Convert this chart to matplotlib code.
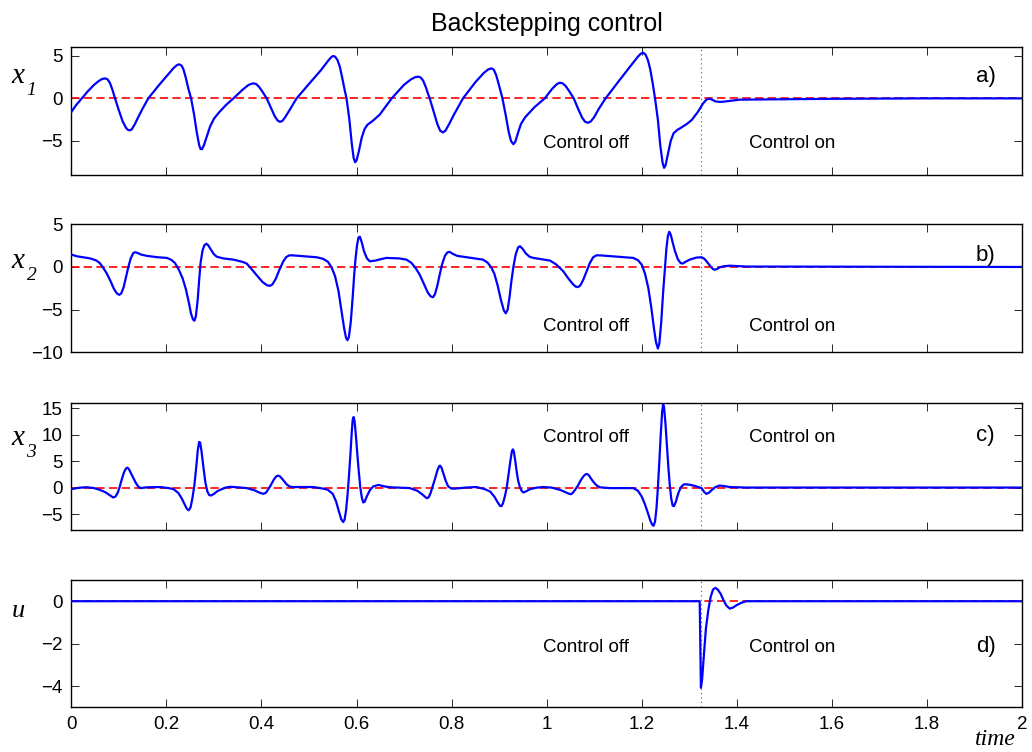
import matplotlib
matplotlib.use("Agg")
import matplotlib.pyplot as plt

# ---------------- data ----------------
t_x1 = [0.000, 0.010, 0.022, 0.035, 0.048, 0.058, 0.065, 0.071, 0.076, 0.081, 0.086, 0.092, 0.100,
        0.108, 0.115, 0.119, 0.123, 0.127, 0.133, 0.140, 0.150, 0.162, 0.185, 0.205, 0.215, 0.222,
        0.227, 0.232, 0.236, 0.241, 0.246, 0.252, 0.258, 0.264, 0.269, 0.272, 0.275, 0.279, 0.285,
        0.292, 0.300, 0.310, 0.325, 0.341, 0.360, 0.372, 0.379, 0.384, 0.389, 0.395, 0.402, 0.411,
        0.420, 0.428, 0.434, 0.439, 0.444, 0.450, 0.460, 0.474, 0.500, 0.525, 0.540, 0.547, 0.551,
        0.555, 0.560, 0.565, 0.570, 0.575, 0.579, 0.585, 0.590, 0.594, 0.597, 0.600, 0.605, 0.611,
        0.617, 0.623, 0.635, 0.649, 0.674, 0.700, 0.715, 0.724, 0.730, 0.735, 0.740, 0.746, 0.750,
        0.754, 0.762, 0.770, 0.776, 0.782, 0.787, 0.795, 0.805, 0.824, 0.850, 0.868, 0.877, 0.884,
        0.889, 0.894, 0.900, 0.907, 0.914, 0.920, 0.925, 0.930, 0.934, 0.940, 0.946, 0.955, 0.975,
        0.996, 1.012, 1.022, 1.028, 1.034, 1.040, 1.048, 1.057, 1.066, 1.075, 1.081, 1.087, 1.093,
        1.100, 1.110, 1.124, 1.150, 1.175, 1.192, 1.198, 1.203, 1.208, 1.213, 1.218, 1.223, 1.228,
        1.234, 1.239, 1.244, 1.247, 1.250, 1.255, 1.261, 1.267, 1.275, 1.284, 1.295, 1.305, 1.318,
        1.329, 1.336, 1.342, 1.348, 1.355, 1.365, 1.378, 1.392, 1.406, 1.500, 1.600, 1.800, 2.000]
x1 = [-1.6, -0.8, 0.0, 0.85, 1.6, 2.05, 2.28, 2.35, 2.25, 1.85, 1.1, 0.0, -1.4,
      -2.7, -3.45, -3.7, -3.75, -3.65, -3.1, -2.3, -1.2, 0.0, 1.6, 2.9, 3.55, 3.9,
      4.0, 3.85, 3.4, 2.4, 1.2, 0.0, -1.8, -4.0, -5.5, -5.95, -5.95, -5.5, -4.5,
      -3.3, -2.4, -1.7, -0.8, 0.0, 1.0, 1.55, 1.72, 1.76, 1.68, 1.35, 0.8, 0.0,
      -1.1, -2.1, -2.6, -2.75, -2.65, -2.2, -1.3, 0.0, 1.7, 3.3, 4.4, 4.85, 4.98,
      4.9, 4.5, 3.7, 2.4, 1.0, 0.0, -2.5, -5.3, -7.0, -7.5, -7.3, -6.2, -4.6,
      -3.6, -3.1, -2.6, -1.9, 0.0, 1.6, 2.25, 2.5, 2.55, 2.45, 2.1, 1.3, 0.6,
      0.0, -1.5, -3.0, -3.8, -4.0, -3.8, -3.0, -1.9, 0.0, 1.9, 3.0, 3.4, 3.53,
      3.35, 2.7, 1.5, 0.0, -2.0, -3.9, -5.0, -5.38, -5.1, -4.0, -3.0, -2.2, -1.0,
      0.0, 1.15, 1.7, 1.84, 1.75, 1.45, 0.8, 0.0, -1.2, -2.3, -2.75, -2.87, -2.7,
      -2.2, -1.2, 0.0, 1.9, 3.7, 4.9, 5.25, 5.37, 5.15, 4.5, 3.4, 1.8, 0.0,
      -2.5, -5.5, -7.6, -8.16, -7.9, -6.6, -5.0, -4.1, -3.7, -3.4, -3.0, -2.55, -1.6,
      -0.6, -0.15, -0.03, -0.15, -0.35, -0.42, -0.35, -0.25, -0.15, -0.1, -0.05, 0.0, 0.0]

t_x2 = [0.000, 0.012, 0.025, 0.040, 0.053, 0.060, 0.066, 0.074, 0.082, 0.090, 0.096, 0.101, 0.105,
        0.110, 0.115, 0.120, 0.125, 0.130, 0.134, 0.139, 0.147, 0.159, 0.180, 0.201, 0.210, 0.218,
        0.226, 0.234, 0.241, 0.247, 0.252, 0.256, 0.259, 0.262, 0.266, 0.269, 0.272, 0.276, 0.280,
        0.284, 0.288, 0.294, 0.300, 0.306, 0.320, 0.341, 0.360, 0.369, 0.380, 0.392, 0.403, 0.412,
        0.418, 0.423, 0.430, 0.438, 0.446, 0.452, 0.458, 0.463, 0.480, 0.516, 0.530, 0.540, 0.548,
        0.555, 0.562, 0.568, 0.574, 0.578, 0.581, 0.584, 0.588, 0.592, 0.595, 0.598, 0.601, 0.604,
        0.607, 0.611, 0.616, 0.622, 0.628, 0.640, 0.650, 0.663, 0.690, 0.705, 0.715, 0.724, 0.733,
        0.742, 0.750, 0.756, 0.761, 0.765, 0.770, 0.775, 0.780, 0.786, 0.791, 0.796, 0.802, 0.812,
        0.824, 0.866, 0.876, 0.884, 0.890, 0.897, 0.904, 0.910, 0.914, 0.918, 0.922, 0.926, 0.930,
        0.935, 0.940, 0.944, 0.949, 0.956, 0.964, 0.972, 1.007, 1.020, 1.035, 1.045, 1.055, 1.061,
        1.066, 1.071, 1.077, 1.084, 1.091, 1.098, 1.105, 1.115, 1.150, 1.182, 1.192, 1.200, 1.207,
        1.214, 1.220, 1.226, 1.230, 1.234, 1.237, 1.241, 1.245, 1.249, 1.252, 1.255, 1.258, 1.261,
        1.265, 1.270, 1.276, 1.282, 1.286, 1.292, 1.301, 1.315, 1.326, 1.332, 1.338, 1.345, 1.350,
        1.354, 1.358, 1.364, 1.371, 1.385, 1.420, 2.000]
x2 = [1.45, 1.25, 1.14, 1.0, 0.75, 0.45, 0.0, -0.7, -1.6, -2.6, -3.1, -3.27, -3.1,
      -2.4, -1.2, 0.0, 1.0, 1.6, 1.73, 1.65, 1.45, 1.3, 1.15, 1.06, 0.85, 0.47,
      -0.3, -1.3, -2.6, -4.1, -5.5, -6.15, -6.3, -5.8, -3.8, -1.5, 0.5, 1.9, 2.55,
      2.72, 2.55, 2.0, 1.5, 1.2, 1.0, 0.86, 0.6, 0.4, -0.3, -1.1, -1.8, -2.15,
      -2.21, -2.05, -1.4, -0.3, 0.66, 1.15, 1.35, 1.37, 1.3, 1.14, 0.95, 0.6, -0.1,
      -1.1, -2.8, -5.0, -7.2, -8.3, -8.58, -8.2, -6.4, -3.5, -1.0, 1.0, 2.5, 3.45,
      3.55, 2.9, 1.8, 1.0, 0.66, 0.75, 0.9, 1.06, 1.0, 0.86, 0.5, -0.1, -0.91,
      -2.0, -3.0, -3.45, -3.54, -3.2, -2.2, -0.9, 0.3, 1.3, 1.7, 1.77, 1.55, 1.3,
      1.2, 0.86, 0.5, -0.1, -0.8, -2.2, -3.9, -5.1, -5.43, -5.0, -3.5, -1.6, 0.0,
      1.5, 2.3, 2.43, 2.15, 1.6, 1.2, 1.06, 0.75, 0.3, -0.51, -1.3, -2.0, -2.3,
      -2.36, -2.15, -1.5, -0.5, 0.47, 1.15, 1.37, 1.35, 1.2, 1.06, 0.8, 0.27, -0.8,
      -2.5, -4.7, -7.3, -8.8, -9.56, -9.0, -6.5, -3.0, 0.0, 2.2, 3.6, 4.13, 3.8,
      2.9, 1.84, 0.9, 0.45, 0.4, 0.6, 0.86, 1.1, 1.14, 0.95, 0.55, 0.05, -0.25,
      -0.32, -0.25, -0.05, 0.07, 0.15, 0.05, 0.0]

t_x3 = [0.000, 0.015, 0.032, 0.048, 0.060, 0.072, 0.082, 0.088, 0.093, 0.098, 0.102, 0.106, 0.111,
        0.115, 0.118, 0.121, 0.125, 0.130, 0.135, 0.140, 0.145, 0.160, 0.187, 0.205, 0.215, 0.225,
        0.232, 0.238, 0.243, 0.247, 0.251, 0.255, 0.259, 0.263, 0.266, 0.269, 0.271, 0.274, 0.278,
        0.282, 0.286, 0.290, 0.294, 0.300, 0.307, 0.313, 0.325, 0.334, 0.350, 0.369, 0.385, 0.397,
        0.404, 0.409, 0.414, 0.420, 0.426, 0.431, 0.435, 0.439, 0.445, 0.452, 0.458, 0.465, 0.509,
        0.530, 0.540, 0.550, 0.557, 0.563, 0.568, 0.572, 0.575, 0.578, 0.581, 0.584, 0.587, 0.590,
        0.592, 0.594, 0.596, 0.599, 0.602, 0.605, 0.608, 0.611, 0.614, 0.617, 0.622, 0.628, 0.635,
        0.646, 0.660, 0.670, 0.712, 0.728, 0.740, 0.746, 0.749, 0.752, 0.756, 0.760, 0.765, 0.770,
        0.774, 0.776, 0.779, 0.783, 0.788, 0.793, 0.800, 0.807, 0.830, 0.852, 0.870, 0.881, 0.890,
        0.897, 0.902, 0.905, 0.908, 0.912, 0.916, 0.920, 0.924, 0.927, 0.929, 0.931, 0.934, 0.937,
        0.940, 0.944, 0.948, 0.951, 0.957, 0.965, 0.980, 0.993, 1.010, 1.028, 1.040, 1.048, 1.051,
        1.055, 1.060, 1.066, 1.072, 1.078, 1.082, 1.085, 1.089, 1.094, 1.100, 1.106, 1.112, 1.133,
        1.182, 1.192, 1.200, 1.207, 1.213, 1.218, 1.222, 1.225, 1.228, 1.231, 1.234, 1.237, 1.240,
        1.243, 1.245, 1.247, 1.250, 1.253, 1.256, 1.259, 1.262, 1.265, 1.268, 1.272, 1.277, 1.282,
        1.287, 1.291, 1.300, 1.312, 1.326, 1.331, 1.336, 1.341, 1.347, 1.355, 1.364, 1.372, 1.385,
        1.420, 2.000]
x3 = [-0.3, -0.05, 0.07, -0.1, -0.43, -0.9, -1.5, -1.87, -1.7, -0.9, 0.19, 1.5, 2.9,
      3.6, 3.75, 3.5, 2.8, 1.9, 1.0, 0.3, -0.1, 0.05, 0.1, -0.1, -0.3, -1.0,
      -2.0, -3.1, -4.0, -4.3, -3.7, -1.9, 0.5, 4.0, 7.0, 8.6, 8.5, 6.8, 3.8,
      1.0, -0.7, -1.4, -1.5, -1.2, -0.7, -0.43, 0.0, 0.15, 0.05, -0.1, -0.5, -1.0,
      -1.18, -1.0, -0.4, 0.5, 1.5, 2.1, 2.25, 2.1, 1.5, 0.7, 0.25, 0.1, 0.1,
      -0.2, -0.43, -1.2, -2.6, -4.5, -6.0, -6.5, -6.0, -4.3, -1.5, 2.0, 6.0, 10.5,
      12.8, 13.3, 12.5, 9.5, 6.0, 2.8, 0.0, -1.8, -2.8, -2.7, -1.6, -0.5, 0.2,
      0.5, 0.2, 0.06, -0.1, -0.6, -1.4, -1.9, -2.0, -1.8, -1.0, 0.2, 1.6, 3.2,
      4.05, 4.13, 3.7, 2.6, 1.2, 0.2, -0.2, -0.2, 0.0, 0.1, -0.3, -0.75, -1.7,
      -2.8, -3.45, -3.5, -3.0, -1.7, 0.0, 2.6, 5.2, 6.9, 7.2, 6.8, 5.0, 3.0,
      1.3, 0.0, -0.7, -0.93, -0.7, -0.3, 0.0, 0.1, 0.0, -0.43, -0.9, -1.2, -1.25,
      -1.0, -0.4, 0.4, 1.4, 2.2, 2.5, 2.57, 2.3, 1.6, 0.9, 0.35, 0.05, -0.1,
      -0.1, -0.6, -1.69, -3.2, -4.8, -6.2, -7.0, -7.2, -6.4, -4.0, 0.0, 4.8, 10.0,
      14.3, 15.7, 15.2, 12.0, 8.0, 3.9, 0.5, -2.0, -3.4, -3.5, -2.6, -1.06, 0.0,
      0.5, 0.63, 0.55, 0.3, -0.1, -0.8, -1.18, -1.0, -0.5, 0.1, 0.38, 0.3, 0.1,
      0.0, 0.0]

t_u = [0.000, 1.322, 1.3245, 1.327, 1.331, 1.335, 1.340, 1.345, 1.350, 1.355, 1.360, 1.366,
       1.372, 1.378, 1.385, 1.392, 1.400, 1.410, 1.420, 2.000]
u = [0.0, 0.0, -4.08, -3.7, -2.47, -1.3, -0.43, 0.2, 0.55, 0.63, 0.55, 0.35,
     0.05, -0.2, -0.35, -0.3, -0.18, -0.07, 0.0, 0.0]

t_switch = 1.324
x_ticks = [0, 0.2, 0.4, 0.6, 0.8, 1, 1.2, 1.4, 1.6, 1.8, 2]
x_tick_labels = ["0", "0.2", "0.4", "0.6", "0.8", "1", "1.2", "1.4", "1.6", "1.8", "2"]
ylims = [(-9, 6), (-10, 5), (-8, 16), (-5, 1)]
yticks = [[-5, 0, 5], [-10, -5, 0, 5], [-5, 0, 5, 10, 15], [-4, -2, 0]]
panel_tags = ["a)", "b)", "c)", "d)"]
ylabel_main = ["x", "x", "x", "u"]
ylabel_sub = ["1", "2", "3", ""]
title = "Backstepping control"

# text placement (data coords)
text_base_y = [-5.85, -7.5, 8.63, -2.4]
tag_base_y = [1.95, 0.74, 8.8, -2.4]

# ---------------- figure ----------------
plt.rcParams['font.family'] = ['Liberation Sans', 'DejaVu Sans']

fig = plt.figure(figsize=(10.32, 7.52), dpi=100)
W, H = 1032.0, 752.0
left = 71.3 / W
width = (1022.0 - 71.3) / W
tops = [47.3, 224.3, 402.7, 580.0]
bottoms = [175.0, 352.3, 530.0, 707.3]
label_base_px = [83.0, 268.3, 445.0, 616.7]
label_sizes = [21, 21, 21, 19]

series = [(t_x1, x1), (t_x2, x2), (t_x3, x3), (t_u, u)]
axes = []
for i in range(4):
    b = (H - bottoms[i]) / H
    h = (bottoms[i] - tops[i]) / H
    ax = fig.add_axes([left, b, width, h])
    axes.append(ax)
    tt, yy = series[i]
    ax.plot([0, 2], [0, 0], color=(1, 0, 0), lw=1.2, linestyle=(0, (5, 2.6)), zorder=2)
    ax.plot(tt, yy, color=(0, 0, 1), lw=1.6, zorder=3, solid_joinstyle='round')
    ax.axvline(t_switch, color='0.35', lw=0.8, linestyle=(0, (1, 3)), zorder=1)
    ax.set_xlim(0, 2)
    ax.set_ylim(*ylims[i])
    ax.set_yticks(yticks[i])
    ax.set_xticks(x_ticks)
    if i == 3:
        ax.set_xticklabels(x_tick_labels)
    else:
        ax.set_xticklabels([])
    ax.tick_params(direction='in', top=True, right=True, length=6, width=0.7,
                   labelsize=13.5, pad=6, color='0.15')
    for s in ax.spines.values():
        s.set_linewidth(1.0)
        s.set_color('black')
    ax.text(0.992, text_base_y[i], "Control off", fontsize=13.5, va='baseline', ha='left')
    ax.text(1.426, text_base_y[i], "Control on", fontsize=13.5, va='baseline', ha='left')
    ax.text(1.903, tag_base_y[i], panel_tags[i], fontsize=16, va='baseline', ha='left')
    fig.text(11.7 / W, (H - label_base_px[i]) / H, ylabel_main[i], fontsize=label_sizes[i],
             family='Liberation Serif', style='italic', va='baseline', ha='left')
    if ylabel_sub[i]:
        fig.text(26.5 / W, (H - label_base_px[i] - 12.0) / H, ylabel_sub[i], fontsize=14,
                 family='Liberation Serif', style='italic', va='baseline', ha='left')

axes[0].set_title(title, fontsize=18, pad=12)
fig.text(975.0 / W, 7.0 / H, "time", fontsize=17, family='Liberation Serif',
         style='italic', va='baseline', ha='left')

fig.savefig("out.png", dpi=100)
